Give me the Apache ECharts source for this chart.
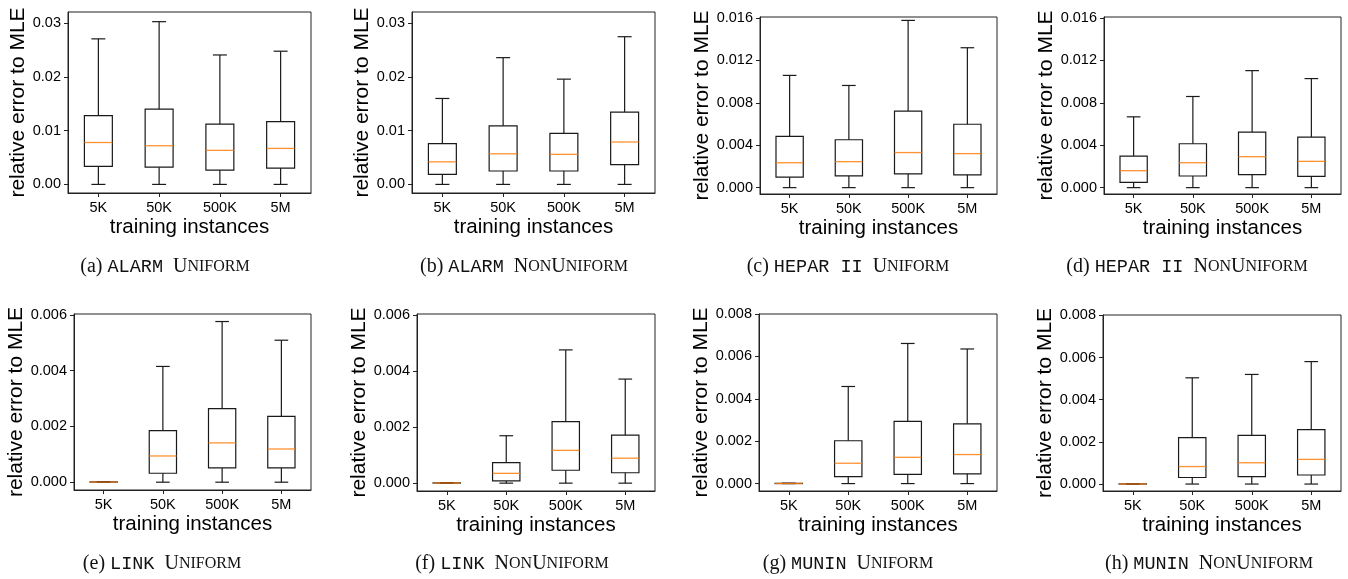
<!DOCTYPE html>
<html lang="en">
<head>
    <meta charset="utf-8">
    <title>relative error to MLE</title>
    <script src="https://cdn.jsdelivr.net/npm/echarts@6/dist/echarts.min.js"></script>
    <style>
        html, body { margin: 0; padding: 0; background: #fff; }
        #main { width: 1348px; height: 579px; }
    </style>
</head>
<body>
<div id="main"></div>
<script type="text/javascript">
    // categories on the x axis
    var categories = ['5K', '50K', '500K', '5M'];

    // box stats per category: [min, q1, median, q3, max]
    var alarmUniform = [[0, 0.00335, 0.0078, 0.0128, 0.0271], [0, 0.0032, 0.0072, 0.0140, 0.0303],
        [0, 0.00267, 0.00634, 0.01124, 0.0241], [0, 0.00304, 0.0067, 0.01168, 0.0248]];
    var alarmNonUniform = [[0, 0.00185, 0.0042, 0.0076, 0.0160], [0, 0.0025, 0.0057, 0.0109, 0.0236],
        [0, 0.0025, 0.0056, 0.0095, 0.0196], [0, 0.0037, 0.0079, 0.01346, 0.0275]];
    var heparUniform = [[0, 0.00099, 0.00235, 0.00483, 0.01059], [0, 0.00111, 0.00245, 0.00452, 0.00964],
        [0, 0.0013, 0.00331, 0.00722, 0.01578], [0, 0.00121, 0.00321, 0.00598, 0.0132]];
    var heparNonUniform = [[0, 0.0005, 0.0016, 0.00298, 0.00668], [0, 0.0011, 0.00235, 0.00414, 0.0086],
        [0, 0.00122, 0.00292, 0.00524, 0.01104], [0, 0.00107, 0.00248, 0.00477, 0.01029]];
    var linkUniform = [[0, 0.000002, 0.000005, 0.00001, 0.00002], [0, 0.00032, 0.00094, 0.00185, 0.00415],
        [0, 0.00051, 0.00141, 0.00264, 0.00576], [0, 0.00051, 0.00119, 0.00236, 0.00509]];
    var linkNonUniform = [[0, 0.000002, 0.000005, 0.00001, 0.00002], [0, 0.00008, 0.00035, 0.00073, 0.00169],
        [0, 0.00046, 0.00117, 0.00219, 0.00475], [0, 0.00037, 0.00089, 0.00171, 0.00371]];
    var muninUniform = [[0, 0.000002, 0.000005, 0.00001, 0.00002], [0, 0.00033, 0.00096, 0.00202, 0.00458],
        [0, 0.00043, 0.00124, 0.00293, 0.00661], [0, 0.00046, 0.00137, 0.00282, 0.00635]];
    var muninNonUniform = [[0, 0.000002, 0.000005, 0.00001, 0.00002], [0, 0.00031, 0.00083, 0.0022, 0.00504],
        [0, 0.00035, 0.00101, 0.00231, 0.0052], [0, 0.00043, 0.00117, 0.00258, 0.00581]];

    // y tick labels
    var ticksAlarm = [0, 0.01, 0.02, 0.03];
    var ticksHepar = [0, 0.004, 0.008, 0.012, 0.016];
    var ticksLink = [0, 0.002, 0.004, 0.006];
    var ticksMunin = [0, 0.002, 0.004, 0.006, 0.008];

    // captions
    var captionLetters = ['(a)', '(b)', '(c)', '(d)', '(e)', '(f)', '(g)', '(h)'];
    var captionNets = ['ALARM', 'ALARM', 'HEPAR II', 'HEPAR II', 'LINK', 'LINK', 'MUNIN', 'MUNIN'];
    var captionKinds = ['Uniform', 'NonUniform', 'Uniform', 'NonUniform', 'Uniform', 'NonUniform', 'Uniform', 'NonUniform'];

    var panels = [
        {data: alarmUniform, ticks: ticksAlarm, dec: 2, min: -0.0016, max: 0.0321, left: 68, top: 12, width: 243, height: 181, cx: 165, cy: 267},
        {data: alarmNonUniform, ticks: ticksAlarm, dec: 2, min: -0.0016, max: 0.0321, left: 412, top: 12, width: 243, height: 181, cx: 524, cy: 267},
        {data: heparUniform, ticks: ticksHepar, dec: 3, min: -0.0006, max: 0.0161, left: 760, top: 17, width: 237, height: 177, cx: 848, cy: 267},
        {data: heparNonUniform, ticks: ticksHepar, dec: 3, min: -0.0006, max: 0.0161, left: 1104, top: 17, width: 237, height: 177, cx: 1187, cy: 267},
        {data: linkUniform, ticks: ticksLink, dec: 3, min: -0.00028, max: 0.00603, left: 74, top: 314, width: 237, height: 176, cx: 162, cy: 564},
        {data: linkNonUniform, ticks: ticksLink, dec: 3, min: -0.00028, max: 0.00603, left: 417, top: 314, width: 238, height: 177, cx: 512, cy: 564},
        {data: muninUniform, ticks: ticksMunin, dec: 3, min: -0.00035, max: 0.0080, left: 759, top: 314, width: 238, height: 177, cx: 848, cy: 564},
        {data: muninNonUniform, ticks: ticksMunin, dec: 3, min: -0.00033, max: 0.00802, left: 1103, top: 315, width: 238, height: 176, cx: 1209, cy: 564}
    ];

    var lineColor = '#1a1a1a';
    var sans = 'Liberation Sans, Arial, sans-serif';

    // draws one box with whiskers, half-width caps and an orange median
    function renderBox(params, api) {
        var x = api.value(0);
        var pMin = api.coord([x, api.value(1)]);
        var pQ1 = api.coord([x, api.value(2)]);
        var pMed = api.coord([x, api.value(3)]);
        var pQ3 = api.coord([x, api.value(4)]);
        var pMax = api.coord([x, api.value(5)]);
        var bw = api.size([1, 0])[0] * 0.46;
        var hb = bw / 2, hc = bw / 4;
        var cx = pMed[0];
        var st = {stroke: lineColor, lineWidth: 1.2, fill: null};
        return {
            type: 'group',
            children: [
                {type: 'line', shape: {x1: cx, y1: pMin[1], x2: cx, y2: pQ1[1]}, style: st},
                {type: 'line', shape: {x1: cx, y1: pQ3[1], x2: cx, y2: pMax[1]}, style: st},
                {type: 'line', shape: {x1: cx - hc, y1: pMin[1], x2: cx + hc, y2: pMin[1]}, style: st},
                {type: 'line', shape: {x1: cx - hc, y1: pMax[1], x2: cx + hc, y2: pMax[1]}, style: st},
                {type: 'rect', shape: {x: cx - hb, y: pQ3[1], width: bw, height: pQ1[1] - pQ3[1]}, style: st},
                {type: 'line', shape: {x1: cx - hb, y1: pMed[1], x2: cx + hb, y2: pMed[1]},
                    style: {stroke: '#ff7f0e', lineWidth: 1.3, opacity: 0.85}}
            ]
        };
    }

    var grids = [], xAxes = [], yAxes = [], series = [], graphics = [];
    panels.forEach(function (p, i) {
        grids.push({left: p.left, top: p.top, width: p.width, height: p.height,
            show: true, borderColor: '#222', borderWidth: 1, backgroundColor: 'transparent'});
        xAxes.push({
            gridIndex: i, type: 'category', data: categories, boundaryGap: true,
            name: 'training instances', nameLocation: 'middle', nameGap: 24,
            nameTextStyle: {fontSize: 20.5, color: '#000', fontFamily: sans},
            axisLine: {show: true, onZero: false, lineStyle: {color: '#222', width: 1}},
            axisTick: {show: true, alignWithLabel: true, length: 4, lineStyle: {color: '#222'}},
            axisLabel: {fontSize: 14.5, color: '#000', margin: 7, fontFamily: sans},
            splitLine: {show: false}
        });
        yAxes.push({
            gridIndex: i, type: 'value', min: p.min, max: p.max,
            name: 'relative error to MLE', nameLocation: 'middle', nameGap: 32,
            nameTextStyle: {fontSize: 21, color: '#000', fontFamily: sans},
            axisLine: {show: true, onZero: false, lineStyle: {color: '#222', width: 1}},
            axisTick: {show: true, length: 4, customValues: p.ticks, lineStyle: {color: '#222'}},
            axisLabel: {
                fontSize: 14.5, color: '#000', margin: 7, fontFamily: sans,
                customValues: p.ticks,
                formatter: (function (d) { return function (v) { return (+v).toFixed(d); }; })(p.dec)
            },
            splitLine: {show: false}
        });
        series.push({
            type: 'custom', xAxisIndex: i, yAxisIndex: i,
            renderItem: renderBox,
            encode: {x: 0, y: [1, 2, 3, 4, 5]},
            data: p.data.map(function (s, k) { return [k].concat(s); }),
            clip: false, silent: true
        });
        var kind = captionKinds[i];
        graphics.push({
            type: 'text', x: p.cx, y: p.cy,
            style: {
                text: '{n|' + captionLetters[i] + ' }{tt|' + captionNets[i] + '}{n|  ' +
                    (kind === 'Uniform' ? 'U}{sc|NIFORM}' : 'N}{sc|ON}{n|U}{sc|NIFORM}'),
                align: 'center', verticalAlign: 'middle',
                rich: {
                    n: {fontFamily: 'Liberation Serif, serif', fontSize: 20, fill: '#111'},
                    tt: {fontFamily: 'Liberation Mono, monospace', fontSize: 18.5, fill: '#111'},
                    sc: {fontFamily: 'Liberation Serif, serif', fontSize: 16, fill: '#111'}
                }
            }
        });
    });

    var myChart = echarts.init(document.getElementById('main'), null, {renderer: 'canvas'});
    myChart.setOption({
        animation: false,
        backgroundColor: '#fff',
        grid: grids,
        xAxis: xAxes,
        yAxis: yAxes,
        series: series,
        graphic: graphics
    });
</script>
</body>
</html>
